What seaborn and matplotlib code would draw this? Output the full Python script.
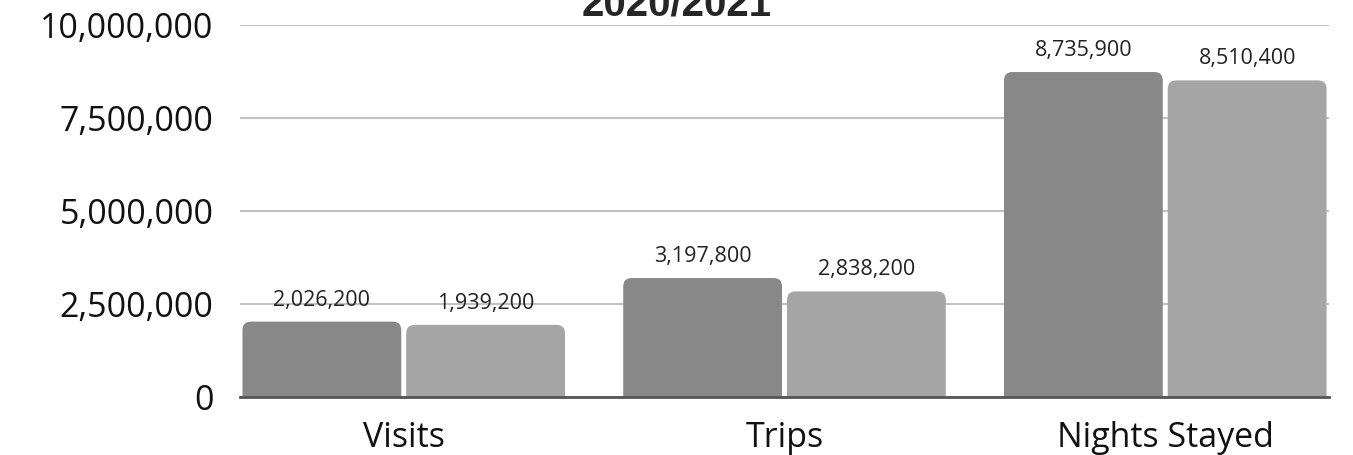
import pandas as pd
import seaborn as sns
import matplotlib.pyplot as plt
from matplotlib.patches import FancyBboxPatch
from matplotlib.ticker import StrMethodFormatter

# data
categories = ['Visits', 'Trips', 'Nights Stayed']
years = ['2020', '2021']
values_2020 = [2026200, 3197800, 8735900]
values_2021 = [1939200, 2838200, 8510400]
colors = ['#888888', '#a5a5a5']

df = pd.DataFrame({
    'Metric': categories * 2,
    'Year': [years[0]] * 3 + [years[1]] * 3,
    'Value': values_2020 + values_2021,
})

sns.set_theme(style='whitegrid')
plt.rcParams['font.family'] = ['Open Sans', 'DejaVu Sans']

fig = plt.figure(figsize=(13.53, 4.55), dpi=100)
ax = fig.add_axes([240 / 1353, 58 / 455, 1089 / 1353, 372 / 455])

sns.barplot(data=df, x='Metric', y='Value', hue='Year', palette=colors,
            width=0.86, gap=0.03, saturation=1, legend=False, ax=ax)

# value labels on top of the bars
for cont in ax.containers:
    ax.bar_label(cont, fmt='{:,.0f}', padding=8, fontsize=15.5, color='#222222')

# swap plain bars for bars with rounded tops
rx = 0.022
ry = 230000
for bar in list(ax.patches):
    x, w, h = bar.get_x(), bar.get_width(), bar.get_height()
    fc = bar.get_facecolor()
    bar.set_visible(False)
    ax.add_patch(FancyBboxPatch((x, -ry), w, h + ry,
                                boxstyle=f'round,pad=0,rounding_size={rx}',
                                mutation_aspect=ry / rx, fc=fc, ec='none'))

ax.set_xlim(-0.43, 2.43)
ax.set_ylim(0, 10000000)
ax.set_yticks([0, 2500000, 5000000, 7500000, 10000000])
ax.yaxis.set_major_formatter(StrMethodFormatter('{x:,.0f}'))
ax.set_xlabel('')
ax.set_ylabel('')

ax.yaxis.grid(True, color='#c2c2c2', linewidth=1.5)
ax.xaxis.grid(False)
ax.set_axisbelow(True)
for side in ['left', 'right', 'top']:
    ax.spines[side].set_visible(False)
ax.spines['bottom'].set_color('#555555')
ax.spines['bottom'].set_linewidth(2)
ax.set_facecolor('white')

ax.tick_params(axis='y', length=0, pad=19, labelsize=24.5, labelcolor='#111111')
ax.tick_params(axis='x', length=0, pad=17, labelsize=24.5, labelcolor='#111111')

fig.text(0.5, 1 - 15 / 455, '2020/2021', ha='center', va='baseline',
         fontsize=29, fontweight='bold', family=['Liberation Sans', 'DejaVu Sans'])

fig.savefig('out.png', dpi=100)
